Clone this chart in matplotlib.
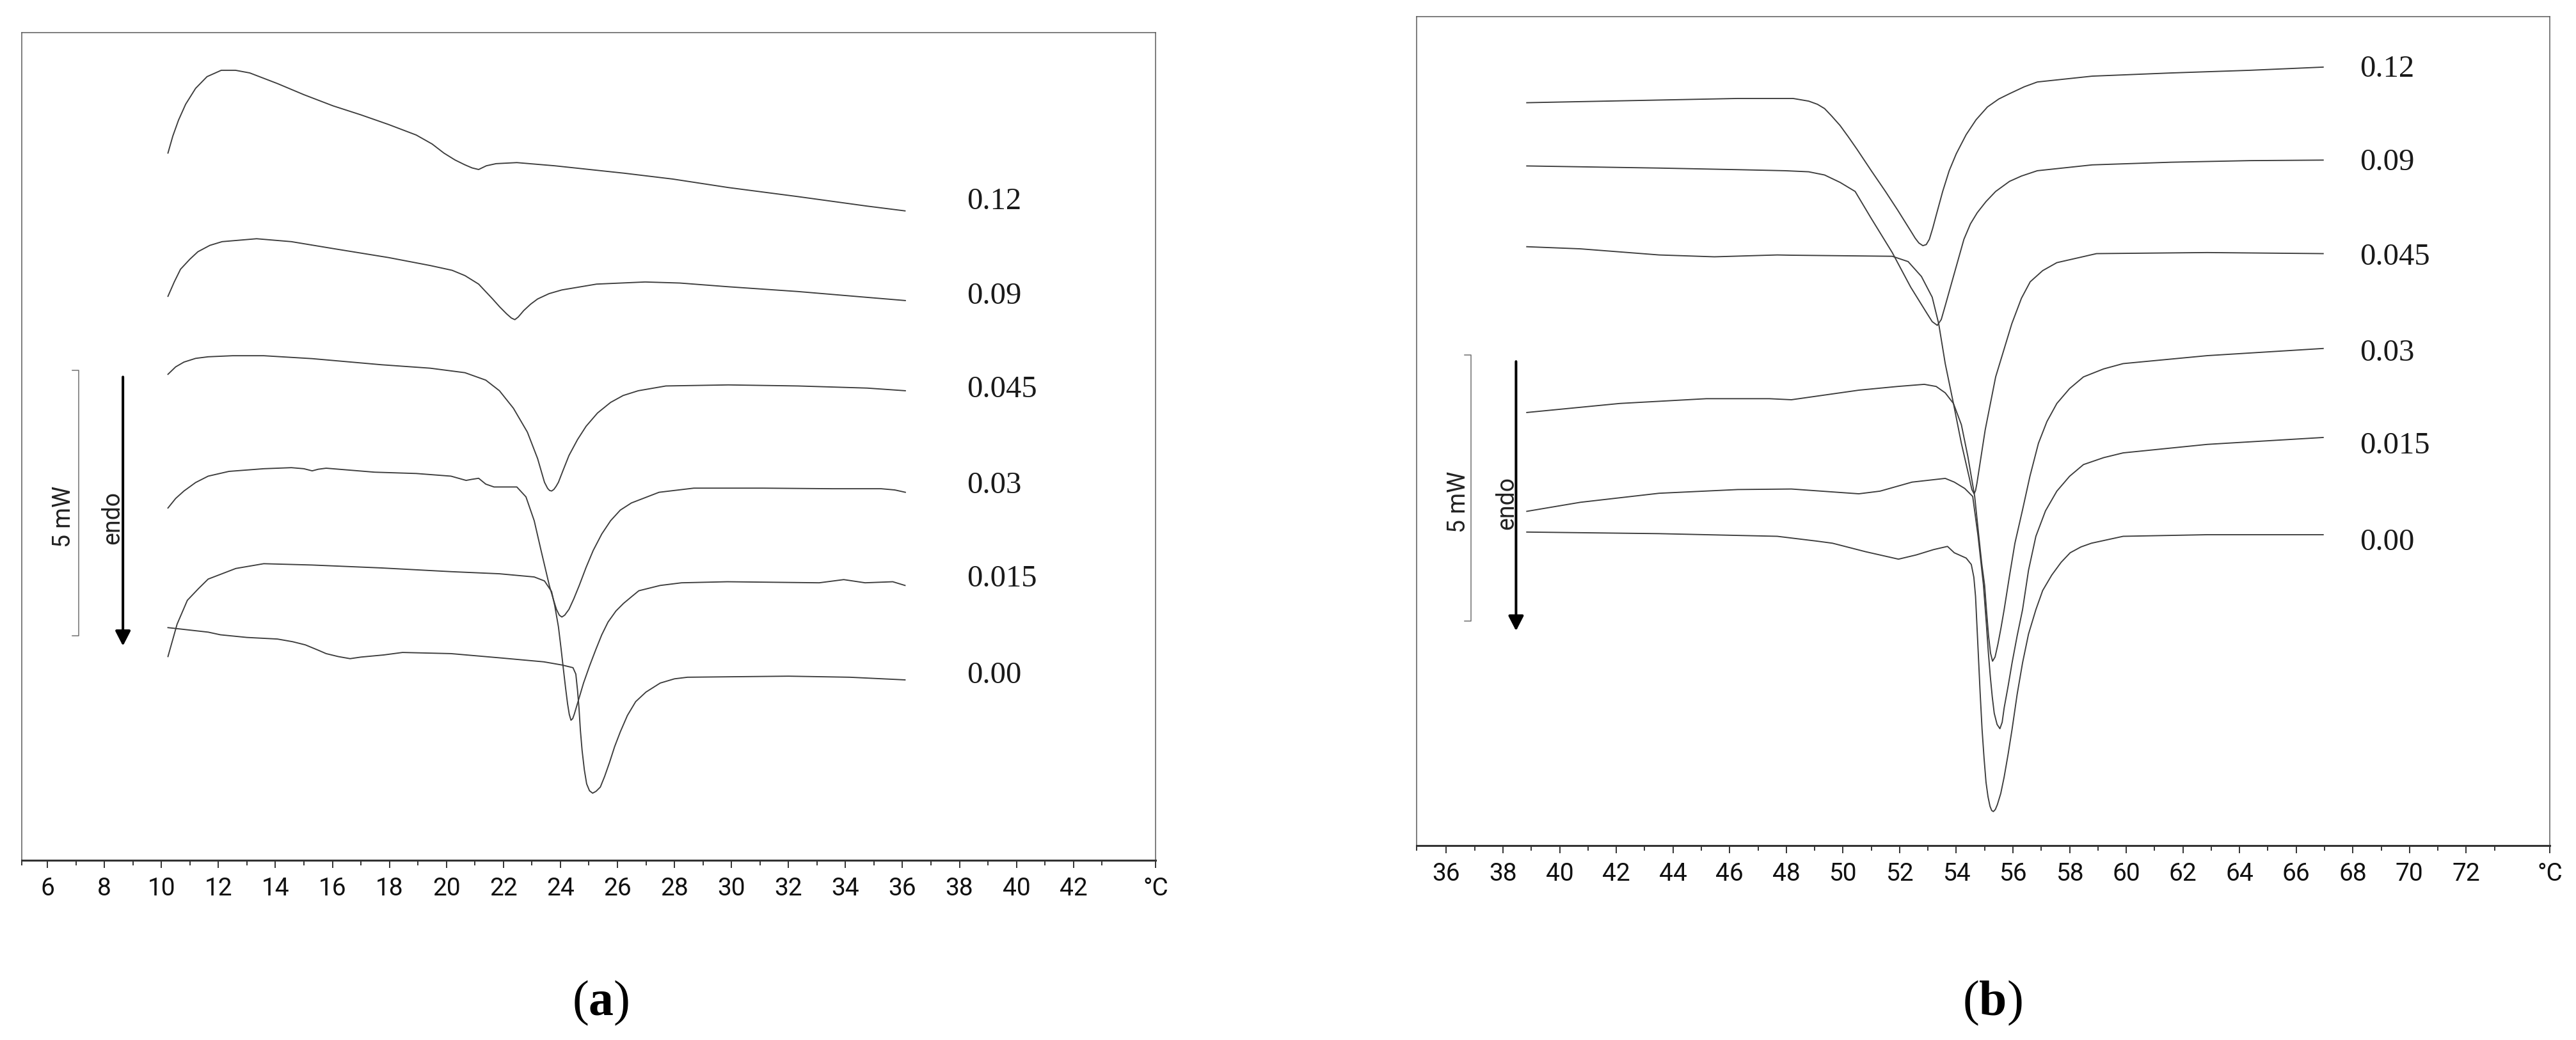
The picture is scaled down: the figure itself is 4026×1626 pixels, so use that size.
import numpy as np
import matplotlib
matplotlib.use('Agg')
import matplotlib.pyplot as plt
from matplotlib import font_manager

# DSC heating curves, heat flow in mW (arbitrary offset), temperature in degC
labels = ['0.12', '0.09', '0.045', '0.03', '0.015', '0.00']

# ---- panel (a)
a_012_T = [10.23, 10.40, 10.6, 10.85, 11.2, 11.6, 12.1, 12.6, 13.1, 14.07, 15.0, 16.02, 17.0, 17.96, 18.94, 19.5,
           19.91, 20.3, 20.64, 20.9, 21.13, 21.4, 21.74, 22.47, 23.80, 26.24, 27.94, 29.89, 32.32, 34.76, 36.09]
a_012_Y = [13.33, 13.65, 13.95, 14.25, 14.55, 14.77, 14.89, 14.89, 14.84, 14.64, 14.43, 14.22, 14.05, 13.87, 13.67, 13.50,
           13.33, 13.20, 13.11, 13.05, 13.02, 13.09, 13.13, 13.15, 13.09, 12.95, 12.84, 12.68, 12.51, 12.33, 12.24]

a_009_T = [10.23, 10.45, 10.67, 11.0, 11.28, 11.7, 12.13, 13.34, 14.56, 16.02, 17.97, 19.43, 20.2, 20.65, 21.13, 21.62,
           21.87, 22.11, 22.28, 22.40, 22.52, 22.71, 22.95, 23.20, 23.6, 24.05, 25.27, 26.97, 28.19, 29.89, 32.33,
           34.76, 36.10]
a_009_Y = [10.63, 10.90, 11.14, 11.33, 11.47, 11.59, 11.66, 11.715, 11.66, 11.53, 11.36, 11.21, 11.12, 11.02, 10.86, 10.58,
           10.43, 10.30, 10.22, 10.19, 10.24, 10.36, 10.48, 10.58, 10.68, 10.75, 10.86, 10.90, 10.88, 10.81, 10.72,
           10.61, 10.55]

a_0045_T = [10.23, 10.5, 10.79, 11.2, 11.64, 12.5, 13.59, 15.29, 17.72, 19.43, 20.65, 21.38, 21.86, 22.35, 22.84, 23.20,
            23.44, 23.55, 23.62, 23.69, 23.77, 23.85, 23.93, 24.10, 24.30, 24.60, 24.90, 25.30, 25.76, 26.20, 26.73,
            27.70, 29.89, 32.33, 34.76, 36.10]
a_0045_Y = [9.16, 9.30, 9.39, 9.46, 9.49, 9.51, 9.51, 9.455, 9.34, 9.275, 9.19, 9.05, 8.85, 8.52, 8.07, 7.57,
            7.125, 7.01, 6.97, 6.96, 6.99, 7.05, 7.125, 7.36, 7.63, 7.93, 8.18, 8.43, 8.63, 8.76, 8.85,
            8.94, 8.96, 8.94, 8.90, 8.85]

a_003_T = [10.23, 10.5, 10.79, 11.2, 11.64, 12.37, 13.59, 14.56, 15.0, 15.29, 15.5, 15.78, 17.48, 18.94, 20.16, 20.69,
           20.89, 21.13, 21.38, 21.67, 22.47, 22.79, 23.08, 23.32, 23.61, 23.75, 23.86, 23.96, 24.05, 24.15, 24.30,
           24.47, 24.66, 24.90, 25.15, 25.45, 25.76, 26.10, 26.49, 27.46, 28.68, 31.11, 33.54, 35.25, 35.73, 36.10]
a_003_Y = [6.64, 6.82, 6.96, 7.12, 7.24, 7.33, 7.38, 7.40, 7.38, 7.34, 7.37, 7.39, 7.315, 7.29, 7.24, 7.16,
           7.18, 7.20, 7.09, 7.036, 7.036, 6.85, 6.40, 5.84, 5.18, 4.92, 4.73, 4.62, 4.585, 4.62, 4.73,
           4.93, 5.18, 5.52, 5.84, 6.15, 6.40, 6.60, 6.735, 6.936, 7.014, 7.014, 7.003, 7.003, 6.98, 6.936]

a_0015_T = [10.23, 10.55, 10.91, 11.3, 11.64, 12.61, 13.59, 15.29, 17.72, 20.16, 21.86, 23.08, 23.44, 23.69, 23.80, 23.93,
            24.02, 24.10, 24.18, 24.25, 24.31, 24.37, 24.43, 24.49, 24.65, 24.81, 25.02, 25.24, 25.45, 25.67, 25.95,
            26.21, 26.50, 26.75, 27.50, 28.25, 29.86, 33.08, 33.94, 34.69, 35.66, 36.09]
a_0015_Y = [3.84, 4.45, 4.90, 5.12, 5.30, 5.50, 5.59, 5.565, 5.51, 5.44, 5.40, 5.34, 5.265, 5.065, 4.80, 4.40,
            4.00, 3.62, 3.25, 2.95, 2.75, 2.64, 2.67, 2.76, 3.05, 3.34, 3.66, 3.97, 4.25, 4.49, 4.70,
            4.84, 4.97, 5.08, 5.18, 5.23, 5.25, 5.23, 5.29, 5.23, 5.25, 5.18]

a_000_T = [10.23, 11.64, 12.07, 13.0, 14.07, 14.6, 15.05, 15.5, 15.78, 16.2, 16.62, 17.0, 17.8, 18.46, 20.16, 21.86,
           23.42, 24.06, 24.44, 24.54, 24.60, 24.65, 24.70, 24.76, 24.84, 24.92, 25.02, 25.13, 25.25, 25.40, 25.55,
           25.72, 25.90, 26.10, 26.35, 26.64, 27.00, 27.50, 28.00, 28.46, 32.0, 34.15, 36.09]
a_000_Y = [4.385, 4.30, 4.25, 4.20, 4.17, 4.12, 4.06, 3.96, 3.895, 3.84, 3.80, 3.83, 3.87, 3.917, 3.895, 3.816,
           3.74, 3.68, 3.63, 3.51, 3.20, 2.88, 2.45, 2.07, 1.70, 1.44, 1.31, 1.265, 1.30, 1.38, 1.58,
           1.84, 2.14, 2.42, 2.73, 2.99, 3.17, 3.34, 3.42, 3.45, 3.47, 3.45, 3.40]

# ---- panel (b)
b_012_T = [38.84, 43.51, 46.29, 48.24, 48.79, 49.10, 49.35, 49.60, 49.90, 50.20, 50.5, 51.0, 51.50, 51.93, 52.40, 52.55,
           52.68, 52.82, 52.94, 53.05, 53.17, 53.29, 53.52, 53.75, 54.0, 54.35, 54.7, 55.1, 55.5, 55.88, 56.4,
           56.86, 58.80, 61.58, 64.36, 66.95]
b_012_Y = [13.98, 14.03, 14.06, 14.06, 14.01, 13.95, 13.87, 13.73, 13.55, 13.33, 13.10, 12.70, 12.31, 11.96, 11.56, 11.43,
           11.34, 11.29, 11.31, 11.41, 11.62, 11.86, 12.31, 12.70, 13.02, 13.38, 13.66, 13.90, 14.05, 14.15, 14.28,
           14.37, 14.48, 14.54, 14.59, 14.65]

b_009_T = [38.84, 43.51, 46.29, 47.96, 48.79, 49.35, 49.90, 50.43, 50.99, 51.74, 52.39, 52.96, 53.15, 53.33, 53.47, 53.61,
           53.90, 54.27, 54.50, 54.74, 55.05, 55.39, 55.88, 56.30, 56.86, 58.80, 61.58, 64.36, 66.95]
b_009_Y = [12.79, 12.75, 12.72, 12.70, 12.68, 12.62, 12.48, 12.31, 11.81, 11.16, 10.51, 10.02, 9.86, 9.79, 9.90, 10.16,
           10.71, 11.41, 11.70, 11.91, 12.12, 12.31, 12.50, 12.60, 12.70, 12.81, 12.86, 12.89, 12.90]

b_0045_T = [38.84, 40.73, 43.51, 45.46, 47.68, 48.18, 51.74, 52.30, 52.77, 53.15, 53.38, 53.61, 53.90, 54.18, 54.46, 54.55,
            54.63, 54.68, 54.73, 55.02, 55.39, 55.96, 56.30, 56.61, 57.05, 57.55, 58.95, 62.86, 66.95]
b_0045_Y = [11.27, 11.23, 11.115, 11.08, 11.115, 11.11, 11.09, 10.99, 10.71, 10.32, 9.82, 9.07, 8.32, 7.57, 6.92, 6.70,
            6.62, 6.68, 6.82, 7.82, 8.82, 9.82, 10.30, 10.61, 10.82, 10.97, 11.14, 11.16, 11.14]

b_003_T = [38.84, 42.12, 45.18, 47.40, 48.18, 50.56, 51.93, 52.87, 53.29, 53.61, 53.90, 54.18, 54.41, 54.65, 54.80, 54.90,
           55.00, 55.07, 55.14, 55.21, 55.28, 55.37, 55.47, 55.58, 55.69, 55.88, 56.07, 56.34, 56.60, 56.90, 57.20,
           57.55, 58.00, 58.49, 59.20, 59.89, 62.86, 66.95]
b_003_Y = [8.15, 8.32, 8.41, 8.41, 8.39, 8.57, 8.64, 8.68, 8.64, 8.52, 8.32, 7.92, 7.32, 6.57, 5.80, 5.30,
           4.90, 4.40, 3.94, 3.62, 3.47, 3.55, 3.79, 4.10, 4.44, 5.08, 5.69, 6.32, 6.95, 7.57, 7.98,
           8.32, 8.60, 8.82, 8.97, 9.07, 9.22, 9.355]

b_0015_T = [38.84, 40.73, 43.51, 46.29, 48.18, 50.56, 51.31, 52.44, 53.61, 53.93, 54.30, 54.58, 54.77, 54.96, 55.06, 55.13,
            55.20, 55.27, 55.34, 55.44, 55.54, 55.62, 55.69, 55.83, 55.97, 56.15, 56.34, 56.55, 56.81, 57.15, 57.55,
            58.00, 58.49, 59.20, 59.89, 62.86, 66.95]
b_0015_Y = [6.29, 6.46, 6.63, 6.70, 6.71, 6.62, 6.67, 6.84, 6.91, 6.84, 6.72, 6.57, 5.82, 4.90, 4.19, 3.65,
            3.19, 2.80, 2.49, 2.28, 2.20, 2.32, 2.59, 3.00, 3.44, 3.95, 4.44, 5.18, 5.82, 6.30, 6.67,
            6.95, 7.17, 7.30, 7.39, 7.55, 7.68]

b_000_T = [38.84, 43.51, 47.68, 49.07, 49.63, 50.8, 51.96, 52.59, 53.2, 53.69, 53.93, 54.35, 54.53, 54.62, 54.68, 54.77,
           54.84, 54.91, 54.98, 55.05, 55.12, 55.19, 55.25, 55.31, 55.38, 55.45, 55.57, 55.69, 55.83, 55.97, 56.15,
           56.34, 56.55, 56.81, 57.05, 57.37, 57.70, 58.02, 58.40, 58.77, 59.89, 62.86, 66.95]
b_000_Y = [5.90, 5.87, 5.82, 5.73, 5.69, 5.53, 5.39, 5.47, 5.57, 5.63, 5.51, 5.41, 5.29, 5.05, 4.69, 3.69,
           2.90, 2.19, 1.65, 1.19, 0.92, 0.74, 0.66, 0.64, 0.68, 0.77, 0.98, 1.29, 1.72, 2.19, 2.85,
           3.44, 3.98, 4.44, 4.80, 5.09, 5.33, 5.51, 5.62, 5.69, 5.82, 5.85, 5.85]

# label heights next to the curves
a_label_Y = [12.42, 10.63, 8.87, 7.07, 5.30, 3.49]
b_label_Y = [14.61, 12.86, 11.07, 9.27, 7.52, 5.70]

a_major = list(range(6, 44, 2))
b_major = list(range(36, 74, 2))

available = {f.name for f in font_manager.fontManager.ttflist}
SANS = 'Liberation Sans Narrow' if 'Liberation Sans Narrow' in available else 'Roboto'
SERIF = 'Liberation Serif'

plt.rcParams['mathtext.fontset'] = 'custom'
plt.rcParams['mathtext.rm'] = 'Liberation Serif'
plt.rcParams['mathtext.bf'] = 'Liberation Serif:bold'

LINE = '#3c3c3c'


def plot_panel(ax, curves, label_y, label_x, xlim, major, bar_x, arrow_x, text_x):
    """ one DSC panel: curves, side labels, 5 mW scale bar and endo arrow """
    for (T, Y) in curves:
        ax.plot(T, Y, color=LINE, lw=1.35, solid_joinstyle='round')

    for lab, y in zip(labels, label_y):
        ax.text(label_x, y, lab, family=SERIF, fontsize=35, color='#1a1a1a',
                ha='left', va='center')

    ax.set_xlim(*xlim)
    ax.set_ylim(0, 15.6)

    # x axis: even numbers labelled, odd numbers minor, end of axis is the unit
    ax.set_xticks(major + [xlim[1]])
    ax.set_xticklabels([str(m) for m in major] + ['\u00b0C'], family=SANS, fontsize=28, color='#111111')
    minor = [m + 1 for m in major] + [xlim[0]]
    ax.set_xticks(minor, minor=True)
    ax.tick_params(axis='x', which='major', length=8.5, width=1.4, color='#333333', pad=10)
    ax.tick_params(axis='x', which='minor', length=5.5, width=1.4, color='#333333')
    ax.set_yticks([])

    for side in ['left', 'top', 'right']:
        ax.spines[side].set_color('#5a5a5a')
        ax.spines[side].set_linewidth(1.1)
    ax.spines['bottom'].set_color('#333333')
    ax.spines['bottom'].set_linewidth(2.2)

    # 5 mW scale bracket
    b0, b1 = 4.23, 9.23
    ax.plot([bar_x - 0.23, bar_x, bar_x, bar_x - 0.23], [b1, b1, b0, b0], color='#707070', lw=1.1)
    ax.text(text_x[0], 6.47, '5 mW', rotation=90, family=SANS, fontsize=27, color='#222222',
            ha='center', va='center')

    # endo arrow
    ax.annotate('', xy=(arrow_x, 4.04), xytext=(arrow_x, 9.11),
                arrowprops=dict(arrowstyle='-|>,head_length=0.7,head_width=0.36', mutation_scale=20,
                                lw=2.9, color='black', shrinkA=0, shrinkB=0))
    ax.text(text_x[1], 6.45, 'endo', rotation=90, family=SANS, fontsize=27, color='#222222',
            ha='center', va='center')
    return ax


def main():
    fig = plt.figure(figsize=(40.26, 16.26), dpi=100)

    ax_a = fig.add_axes([34 / 4026, 281 / 1626, 1772 / 4026, 1294 / 1626])
    curves_a = [(a_012_T, a_012_Y), (a_009_T, a_009_Y), (a_0045_T, a_0045_Y),
                (a_003_T, a_003_Y), (a_0015_T, a_0015_Y), (a_000_T, a_000_Y)]
    plot_panel(ax_a, curves_a, a_label_Y, 38.25, (5.10, 44.88), a_major,
               7.10, 8.65, (6.57, 8.29))

    ax_b = fig.add_axes([2214 / 4026, 304 / 1626, 1771 / 4026, 1296 / 1626])
    curves_b = [(b_012_T, b_012_Y), (b_009_T, b_009_Y), (b_0045_T, b_0045_Y),
                (b_003_T, b_003_Y), (b_0015_T, b_0015_Y), (b_000_T, b_000_Y)]
    plot_panel(ax_b, curves_b, b_label_Y, 68.25, (34.95, 74.95), b_major,
               36.88, 38.46, (36.43, 38.12))

    fig.text(939 / 4026, 58 / 1626, '($\\mathbf{a}$)', family=SERIF, fontsize=56,
             ha='center', va='center')
    fig.text(3114 / 4026, 58 / 1626, '($\\mathbf{b}$)', family=SERIF, fontsize=56,
             ha='center', va='center')

    fig.savefig('out.png', dpi=100)


if __name__ == "__main__":
    main()
